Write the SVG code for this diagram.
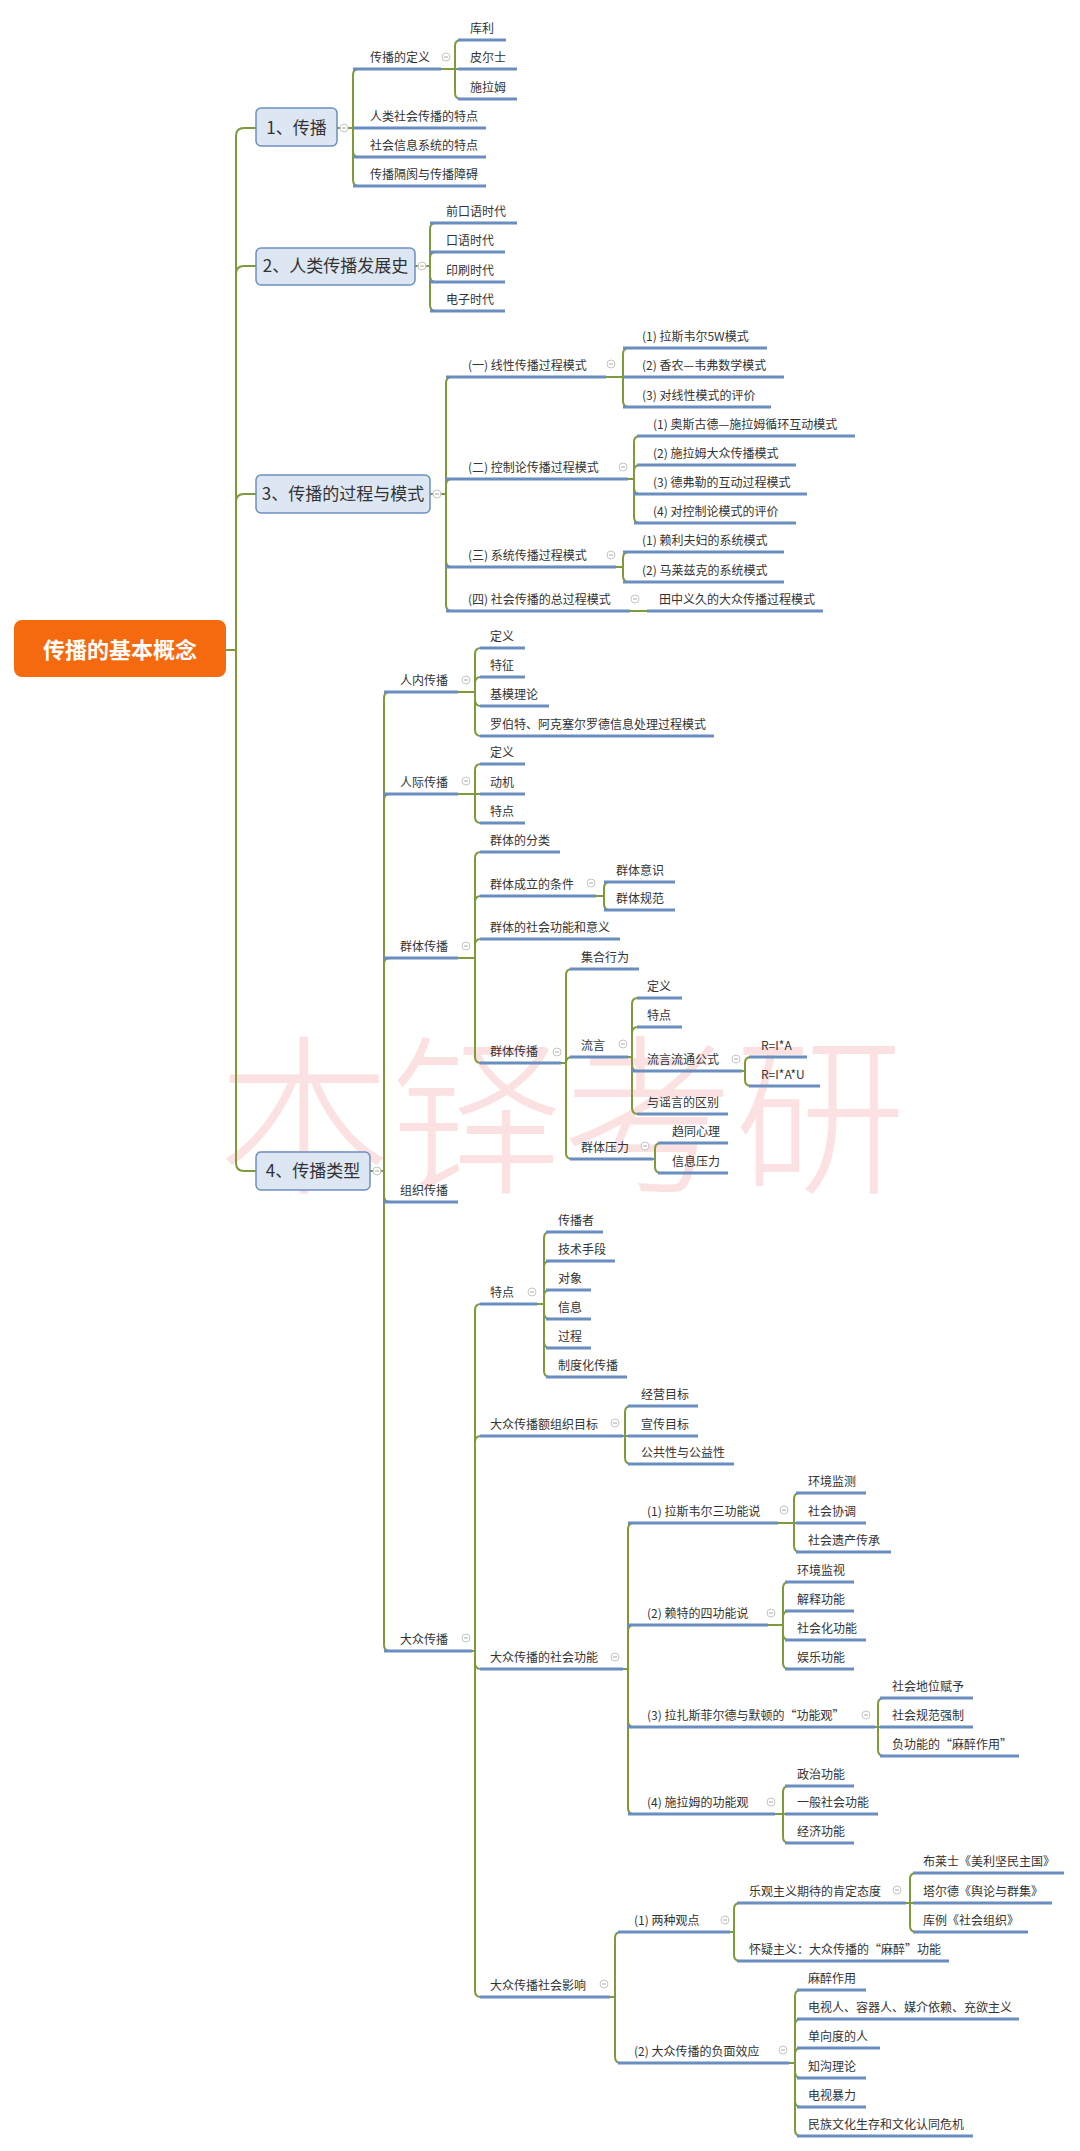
<svg xmlns="http://www.w3.org/2000/svg" xmlns:xlink="http://www.w3.org/1999/xlink" width="1080" height="2151" viewBox="0 0 1080 2151">
<style>
.t{font-family:"Noto Sans CJK SC","Noto Sans",sans-serif;font-size:12px;fill:#333}
.l1{font-size:17px;fill:#333;text-anchor:middle}
.root{font-size:22px;font-weight:bold;fill:#fff;text-anchor:middle}
.wm{font-family:"Noto Sans CJK SC","Noto Sans",sans-serif;font-size:172px;font-weight:300;fill:#fbe1e1}
.ul{stroke:#6a8ebf;stroke-width:3;fill:none}
.cn path{fill:none;stroke:#7f9a3c;stroke-width:2}
.box{fill:#dde7f3;stroke:#6d8fc0;stroke-width:1.5}
.cc{fill:#fff;stroke:#c4c4c4;stroke-width:1}
</style>
<defs>
<g id="col"><circle class="cc" cx="0" cy="0" r="4"/><line x1="-2" y1="0" x2="2" y2="0" stroke="#aaa" stroke-width="1"/></g>
</defs>
<rect width="1080" height="2151" fill="#ffffff"/>
<text class="wm" x="218" y="1180">本铎考研</text>

<g id="connectors" class="cn">
<path d="M226 650 H236 V136 Q236 128 244 128 H256"/>
<path d="M236 650 V274 Q236 266 244 266 H256"/>
<path d="M236 650 V502 Q236 494 244 494 H256"/>
<path d="M236 650 V1163 Q236 1171 244 1171 H256"/>
<path d="M337 128 H353 V75 Q353 69 359 69"/>
<path d="M337 128 H359"/>
<path d="M353 128 V151 Q353 157 359 157"/>
<path d="M353 128 V180 Q353 186 359 186"/>
<path d="M441 69 H455 V46 Q455 40 461 40"/>
<path d="M441 69 H458"/>
<path d="M455 69 V93 Q455 99 461 99"/>
<path d="M415 266 H430 V229 Q430 223 436 223"/>
<path d="M430 266 V258 Q430 252 436 252"/>
<path d="M430 266 V276 Q430 282 436 282"/>
<path d="M430 266 V305 Q430 311 436 311"/>
<path d="M430 494 H446 V383 Q446 377 452 377"/>
<path d="M446 494 V485 Q446 479 452 479"/>
<path d="M446 494 V561 Q446 567 452 567"/>
<path d="M446 494 V605 Q446 611 452 611"/>
<path d="M606 377 H623 V354 Q623 348 629 348"/>
<path d="M606 377 H629"/>
<path d="M623 377 V401 Q623 407 629 407"/>
<path d="M628 479 H634 V442 Q634 436 640 436"/>
<path d="M634 479 V471 Q634 465 640 465"/>
<path d="M634 479 V488 Q634 494 640 494"/>
<path d="M634 479 V517 Q634 523 640 523"/>
<path d="M616 567 H623 V558 Q623 552 629 552"/>
<path d="M623 567 V576 Q623 582 629 582"/>
<path d="M630 611 H647"/>
<path d="M370 1171 H384 V698 Q384 692 390 692"/>
<path d="M384 1171 V800 Q384 794 390 794"/>
<path d="M384 1171 V964 Q384 958 390 958"/>
<path d="M384 1171 V1196 Q384 1202 390 1202"/>
<path d="M384 1171 V1645 Q384 1651 390 1651"/>
<path d="M458 692 H475 V654 Q475 648 481 648"/>
<path d="M475 692 V683 Q475 677 481 677"/>
<path d="M475 692 V700 Q475 706 481 706"/>
<path d="M475 692 V730 Q475 736 481 736"/>
<path d="M458 794 H475 V770 Q475 764 481 764"/>
<path d="M458 794 H481"/>
<path d="M475 794 V817 Q475 823 481 823"/>
<path d="M458 958 H475 V858 Q475 852 481 852"/>
<path d="M475 958 V902 Q475 896 481 896"/>
<path d="M475 958 V945 Q475 939 481 939"/>
<path d="M475 958 V1057 Q475 1063 481 1063"/>
<path d="M596 896 H604 V888 Q604 882 610 882"/>
<path d="M604 896 V904 Q604 910 610 910"/>
<path d="M561 1063 H566 V975 Q566 969 572 969"/>
<path d="M566 1063 Q566 1057 572 1057"/>
<path d="M566 1063 V1153 Q566 1159 572 1159"/>
<path d="M628 1057 H632 V1004 Q632 998 638 998"/>
<path d="M632 1057 V1033 Q632 1027 638 1027"/>
<path d="M632 1057 V1065 Q632 1071 638 1071"/>
<path d="M632 1057 V1108 Q632 1114 638 1114"/>
<path d="M742 1071 H745 V1063 Q745 1057 751 1057"/>
<path d="M745 1071 V1080 Q745 1086 751 1086"/>
<path d="M653 1159 H655 V1149 Q655 1143 661 1143"/>
<path d="M655 1159 V1167 Q655 1173 661 1173"/>
<path d="M472 1651 H475 V1310 Q475 1304 481 1304"/>
<path d="M475 1651 V1442 Q475 1436 481 1436"/>
<path d="M475 1651 V1663 Q475 1669 481 1669"/>
<path d="M475 1651 V1991 Q475 1997 481 1997"/>
<path d="M537 1304 H544 V1238 Q544 1232 550 1232"/>
<path d="M544 1304 V1267 Q544 1261 550 1261"/>
<path d="M544 1304 V1296 Q544 1290 550 1290"/>
<path d="M544 1304 V1313 Q544 1319 550 1319"/>
<path d="M544 1304 V1342 Q544 1348 550 1348"/>
<path d="M544 1304 V1371 Q544 1377 550 1377"/>
<path d="M623 1436 H625 V1412 Q625 1406 631 1406"/>
<path d="M623 1436 H631"/>
<path d="M625 1436 V1458 Q625 1464 631 1464"/>
<path d="M623 1669 H628 V1529 Q628 1523 634 1523"/>
<path d="M628 1669 V1631 Q628 1625 634 1625"/>
<path d="M628 1669 V1721 Q628 1727 634 1727"/>
<path d="M628 1669 V1808 Q628 1814 634 1814"/>
<path d="M778 1523 H794 V1499 Q794 1493 800 1493"/>
<path d="M778 1523 H800"/>
<path d="M794 1523 V1546 Q794 1552 800 1552"/>
<path d="M768 1625 H783 V1588 Q783 1582 789 1582"/>
<path d="M783 1625 V1617 Q783 1611 789 1611"/>
<path d="M783 1625 V1634 Q783 1640 789 1640"/>
<path d="M783 1625 V1663 Q783 1669 789 1669"/>
<path d="M875 1727 H878 V1704 Q878 1698 884 1698"/>
<path d="M875 1727 H884"/>
<path d="M878 1727 V1750 Q878 1756 884 1756"/>
<path d="M775 1814 H783 V1792 Q783 1786 789 1786"/>
<path d="M775 1814 H789"/>
<path d="M783 1814 V1837 Q783 1843 789 1843"/>
<path d="M610 1997 H615 V1938 Q615 1932 621 1932"/>
<path d="M615 1997 V2057 Q615 2063 621 2063"/>
<path d="M730 1932 H734 V1909 Q734 1903 740 1903"/>
<path d="M734 1932 V1955 Q734 1961 740 1961"/>
<path d="M906 1903 H910 V1879 Q910 1873 916 1873"/>
<path d="M906 1903 H916"/>
<path d="M910 1903 V1926 Q910 1932 916 1932"/>
<path d="M789 2063 H795 V1996 Q795 1990 801 1990"/>
<path d="M795 2063 V2025 Q795 2019 801 2019"/>
<path d="M795 2063 V2054 Q795 2048 801 2048"/>
<path d="M795 2063 V2072 Q795 2078 801 2078"/>
<path d="M795 2063 V2101 Q795 2107 801 2107"/>
<path d="M795 2063 V2130 Q795 2136 801 2136"/>
</g>

<g id="root"><rect x="14" y="620" width="212" height="57" rx="8" fill="#f5690f"/><text class="t root" x="120" y="658">传播的基本概念</text></g>

<g id="n1"><rect class="box" x="256" y="108" width="81" height="38" rx="5"/><text class="t l1" x="296.5" y="134">1、传播</text><use href="#col" x="344" y="128"/></g>
<g id="n2"><rect class="box" x="256" y="248" width="159" height="37" rx="5"/><text class="t l1" x="335.5" y="272">2、人类传播发展史</text><use href="#col" x="422" y="266"/></g>
<g id="n3"><rect class="box" x="256" y="475" width="174" height="38" rx="5"/><text class="t l1" x="343" y="500">3、传播的过程与模式</text><use href="#col" x="437" y="494"/></g>
<g id="n4"><rect class="box" x="256" y="1152" width="114" height="38" rx="5"/><text class="t l1" x="313" y="1177">4、传播类型</text><use href="#col" x="377" y="1171"/></g>

<g id="n1-1"><text class="t" x="370" y="62">传播的定义</text><line class="ul" x1="353" y1="69" x2="441" y2="69"/><use href="#col" x="446" y="57"/></g>
<g id="n1-1-1"><text class="t" x="470" y="33">库利</text><line class="ul" x1="458" y1="40" x2="506" y2="40"/></g>
<g id="n1-1-2"><text class="t" x="470" y="62">皮尔士</text><line class="ul" x1="458" y1="69" x2="517" y2="69"/></g>
<g id="n1-1-3"><text class="t" x="470" y="92">施拉姆</text><line class="ul" x1="458" y1="99" x2="517" y2="99"/></g>
<g id="n1-2"><text class="t" x="370" y="121">人类社会传播的特点</text><line class="ul" x1="353" y1="128" x2="486" y2="128"/></g>
<g id="n1-3"><text class="t" x="370" y="150">社会信息系统的特点</text><line class="ul" x1="353" y1="157" x2="486" y2="157"/></g>
<g id="n1-4"><text class="t" x="370" y="179">传播隔阂与传播障碍</text><line class="ul" x1="353" y1="186" x2="486" y2="186"/></g>

<g id="n2-1"><text class="t" x="446" y="216">前口语时代</text><line class="ul" x1="430" y1="223" x2="517" y2="223"/></g>
<g id="n2-2"><text class="t" x="446" y="245">口语时代</text><line class="ul" x1="430" y1="252" x2="505" y2="252"/></g>
<g id="n2-3"><text class="t" x="446" y="275">印刷时代</text><line class="ul" x1="430" y1="282" x2="505" y2="282"/></g>
<g id="n2-4"><text class="t" x="446" y="304">电子时代</text><line class="ul" x1="430" y1="311" x2="505" y2="311"/></g>

<g id="n3-1"><text class="t" x="468" y="370">(一) 线性传播过程模式</text><line class="ul" x1="446" y1="377" x2="606" y2="377"/><use href="#col" x="611" y="364"/></g>
<g id="n3-1-1"><text class="t" x="642" y="341">(1) 拉斯韦尔5W模式</text><line class="ul" x1="623" y1="348" x2="767" y2="348"/></g>
<g id="n3-1-2"><text class="t" x="642" y="370">(2) 香农—韦弗数学模式</text><line class="ul" x1="623" y1="377" x2="784" y2="377"/></g>
<g id="n3-1-3"><text class="t" x="642" y="400">(3) 对线性模式的评价</text><line class="ul" x1="623" y1="407" x2="771" y2="407"/></g>
<g id="n3-2"><text class="t" x="468" y="472">(二) 控制论传播过程模式</text><line class="ul" x1="446" y1="479" x2="628" y2="479"/><use href="#col" x="623" y="467"/></g>
<g id="n3-2-1"><text class="t" x="653" y="429">(1) 奥斯古德—施拉姆循环互动模式</text><line class="ul" x1="637" y1="436" x2="855" y2="436"/></g>
<g id="n3-2-2"><text class="t" x="653" y="458">(2) 施拉姆大众传播模式</text><line class="ul" x1="637" y1="465" x2="796" y2="465"/></g>
<g id="n3-2-3"><text class="t" x="653" y="487">(3) 德弗勒的互动过程模式</text><line class="ul" x1="634" y1="494" x2="807" y2="494"/></g>
<g id="n3-2-4"><text class="t" x="653" y="516">(4) 对控制论模式的评价</text><line class="ul" x1="634" y1="523" x2="796" y2="523"/></g>
<g id="n3-3"><text class="t" x="468" y="560">(三) 系统传播过程模式</text><line class="ul" x1="446" y1="567" x2="616" y2="567"/><use href="#col" x="611" y="555"/></g>
<g id="n3-3-1"><text class="t" x="642" y="545">(1) 赖利夫妇的系统模式</text><line class="ul" x1="623" y1="552" x2="784" y2="552"/></g>
<g id="n3-3-2"><text class="t" x="642" y="575">(2) 马莱兹克的系统模式</text><line class="ul" x1="623" y1="582" x2="784" y2="582"/></g>
<g id="n3-4"><text class="t" x="468" y="604">(四) 社会传播的总过程模式</text><line class="ul" x1="446" y1="611" x2="630" y2="611"/><use href="#col" x="635" y="599"/></g>
<g id="n3-4-1"><text class="t" x="659" y="604">田中义久的大众传播过程模式</text><line class="ul" x1="647" y1="611" x2="823" y2="611"/></g>

<g id="n4-1"><text class="t" x="400" y="685">人内传播</text><line class="ul" x1="384" y1="692" x2="458" y2="692"/><use href="#col" x="466" y="680"/></g>
<g id="n4-1-1"><text class="t" x="490" y="641">定义</text><line class="ul" x1="480" y1="648" x2="525" y2="648"/></g>
<g id="n4-1-2"><text class="t" x="490" y="670">特征</text><line class="ul" x1="480" y1="677" x2="525" y2="677"/></g>
<g id="n4-1-3"><text class="t" x="490" y="699">基模理论</text><line class="ul" x1="480" y1="706" x2="549" y2="706"/></g>
<g id="n4-1-4"><text class="t" x="490" y="729">罗伯特、阿克塞尔罗德信息处理过程模式</text><line class="ul" x1="480" y1="736" x2="714" y2="736"/></g>
<g id="n4-2"><text class="t" x="400" y="787">人际传播</text><line class="ul" x1="384" y1="794" x2="458" y2="794"/><use href="#col" x="466" y="781"/></g>
<g id="n4-2-1"><text class="t" x="490" y="757">定义</text><line class="ul" x1="480" y1="764" x2="525" y2="764"/></g>
<g id="n4-2-2"><text class="t" x="490" y="787">动机</text><line class="ul" x1="480" y1="794" x2="525" y2="794"/></g>
<g id="n4-2-3"><text class="t" x="490" y="816">特点</text><line class="ul" x1="480" y1="823" x2="525" y2="823"/></g>
<g id="n4-3"><text class="t" x="400" y="951">群体传播</text><line class="ul" x1="384" y1="958" x2="458" y2="958"/><use href="#col" x="466" y="946"/></g>
<g id="n4-3-1"><text class="t" x="490" y="845">群体的分类</text><line class="ul" x1="480" y1="852" x2="560" y2="852"/></g>
<g id="n4-3-2"><text class="t" x="490" y="889">群体成立的条件</text><line class="ul" x1="480" y1="896" x2="596" y2="896"/><use href="#col" x="591" y="883"/></g>
<g id="n4-3-2-1"><text class="t" x="616" y="875">群体意识</text><line class="ul" x1="604" y1="882" x2="675" y2="882"/></g>
<g id="n4-3-2-2"><text class="t" x="616" y="903">群体规范</text><line class="ul" x1="604" y1="910" x2="675" y2="910"/></g>
<g id="n4-3-3"><text class="t" x="490" y="932">群体的社会功能和意义</text><line class="ul" x1="480" y1="939" x2="620" y2="939"/></g>
<g id="n4-3-4"><text class="t" x="490" y="1056">群体传播</text><line class="ul" x1="480" y1="1063" x2="561" y2="1063"/><use href="#col" x="557" y="1052"/></g>
<g id="n4-3-4-1"><text class="t" x="581" y="962">集合行为</text><line class="ul" x1="570" y1="969" x2="639" y2="969"/></g>
<g id="n4-3-4-2"><text class="t" x="581" y="1050">流言</text><line class="ul" x1="570" y1="1057" x2="628" y2="1057"/><use href="#col" x="623" y="1044"/></g>
<g id="n4-3-4-2-1"><text class="t" x="647" y="991">定义</text><line class="ul" x1="637" y1="998" x2="682" y2="998"/></g>
<g id="n4-3-4-2-2"><text class="t" x="647" y="1020">特点</text><line class="ul" x1="637" y1="1027" x2="682" y2="1027"/></g>
<g id="n4-3-4-2-3"><text class="t" x="647" y="1064">流言流通公式</text><line class="ul" x1="632" y1="1071" x2="742" y2="1071"/><use href="#col" x="736" y="1059"/></g>
<g id="n4-3-4-2-3-1"><text class="t" x="761" y="1050">R=I*A</text><line class="ul" x1="749" y1="1057" x2="807" y2="1057"/></g>
<g id="n4-3-4-2-3-2"><text class="t" x="761" y="1079">R=I*A*U</text><line class="ul" x1="749" y1="1086" x2="820" y2="1086"/></g>
<g id="n4-3-4-2-4"><text class="t" x="647" y="1107">与谣言的区别</text><line class="ul" x1="637" y1="1114" x2="728" y2="1114"/></g>
<g id="n4-3-4-3"><text class="t" x="581" y="1152">群体压力</text><line class="ul" x1="570" y1="1159" x2="653" y2="1159"/><use href="#col" x="645" y="1146"/></g>
<g id="n4-3-4-3-1"><text class="t" x="672" y="1136">趋同心理</text><line class="ul" x1="658" y1="1143" x2="728" y2="1143"/></g>
<g id="n4-3-4-3-2"><text class="t" x="672" y="1166">信息压力</text><line class="ul" x1="658" y1="1173" x2="728" y2="1173"/></g>
<g id="n4-4"><text class="t" x="400" y="1195">组织传播</text><line class="ul" x1="384" y1="1202" x2="458" y2="1202"/></g>
<g id="n4-5"><text class="t" x="400" y="1644">大众传播</text><line class="ul" x1="384" y1="1651" x2="472" y2="1651"/><use href="#col" x="466" y="1638"/></g>
<g id="n4-5-1"><text class="t" x="490" y="1297">特点</text><line class="ul" x1="480" y1="1304" x2="537" y2="1304"/><use href="#col" x="532" y="1292"/></g>
<g id="n4-5-1-1"><text class="t" x="558" y="1225">传播者</text><line class="ul" x1="546" y1="1232" x2="603" y2="1232"/></g>
<g id="n4-5-1-2"><text class="t" x="558" y="1254">技术手段</text><line class="ul" x1="546" y1="1261" x2="615" y2="1261"/></g>
<g id="n4-5-1-3"><text class="t" x="558" y="1283">对象</text><line class="ul" x1="546" y1="1290" x2="591" y2="1290"/></g>
<g id="n4-5-1-4"><text class="t" x="558" y="1312">信息</text><line class="ul" x1="546" y1="1319" x2="591" y2="1319"/></g>
<g id="n4-5-1-5"><text class="t" x="558" y="1341">过程</text><line class="ul" x1="546" y1="1348" x2="591" y2="1348"/></g>
<g id="n4-5-1-6"><text class="t" x="558" y="1370">制度化传播</text><line class="ul" x1="546" y1="1377" x2="627" y2="1377"/></g>
<g id="n4-5-2"><text class="t" x="490" y="1429">大众传播额组织目标</text><line class="ul" x1="480" y1="1436" x2="623" y2="1436"/><use href="#col" x="615" y="1423"/></g>
<g id="n4-5-2-1"><text class="t" x="641" y="1399">经营目标</text><line class="ul" x1="628" y1="1406" x2="698" y2="1406"/></g>
<g id="n4-5-2-2"><text class="t" x="641" y="1429">宣传目标</text><line class="ul" x1="628" y1="1436" x2="698" y2="1436"/></g>
<g id="n4-5-2-3"><text class="t" x="641" y="1457">公共性与公益性</text><line class="ul" x1="628" y1="1464" x2="734" y2="1464"/></g>
<g id="n4-5-3"><text class="t" x="490" y="1662">大众传播的社会功能</text><line class="ul" x1="480" y1="1669" x2="623" y2="1669"/><use href="#col" x="615" y="1657"/></g>
<g id="n4-5-3-1"><text class="t" x="647" y="1516">(1) 拉斯韦尔三功能说</text><line class="ul" x1="628" y1="1523" x2="778" y2="1523"/><use href="#col" x="784" y="1510"/></g>
<g id="n4-5-3-1-1"><text class="t" x="808" y="1486">环境监测</text><line class="ul" x1="796" y1="1493" x2="866" y2="1493"/></g>
<g id="n4-5-3-1-2"><text class="t" x="808" y="1516">社会协调</text><line class="ul" x1="796" y1="1523" x2="866" y2="1523"/></g>
<g id="n4-5-3-1-3"><text class="t" x="808" y="1545">社会遗产传承</text><line class="ul" x1="796" y1="1552" x2="891" y2="1552"/></g>
<g id="n4-5-3-2"><text class="t" x="647" y="1618">(2) 赖特的四功能说</text><line class="ul" x1="628" y1="1625" x2="768" y2="1625"/><use href="#col" x="771" y="1613"/></g>
<g id="n4-5-3-2-1"><text class="t" x="797" y="1575">环境监视</text><line class="ul" x1="785" y1="1582" x2="854" y2="1582"/></g>
<g id="n4-5-3-2-2"><text class="t" x="797" y="1604">解释功能</text><line class="ul" x1="785" y1="1611" x2="854" y2="1611"/></g>
<g id="n4-5-3-2-3"><text class="t" x="797" y="1633">社会化功能</text><line class="ul" x1="785" y1="1640" x2="866" y2="1640"/></g>
<g id="n4-5-3-2-4"><text class="t" x="797" y="1662">娱乐功能</text><line class="ul" x1="785" y1="1669" x2="854" y2="1669"/></g>
<g id="n4-5-3-3"><text class="t" x="647" y="1720">(3) 拉扎斯菲尔德与默顿的“功能观”</text><line class="ul" x1="628" y1="1727" x2="875" y2="1727"/><use href="#col" x="866" y="1715"/></g>
<g id="n4-5-3-3-1"><text class="t" x="892" y="1691">社会地位赋予</text><line class="ul" x1="880" y1="1698" x2="973" y2="1698"/></g>
<g id="n4-5-3-3-2"><text class="t" x="892" y="1720">社会规范强制</text><line class="ul" x1="880" y1="1727" x2="973" y2="1727"/></g>
<g id="n4-5-3-3-3"><text class="t" x="892" y="1749">负功能的“麻醉作用”</text><line class="ul" x1="880" y1="1756" x2="1019" y2="1756"/></g>
<g id="n4-5-3-4"><text class="t" x="647" y="1807">(4) 施拉姆的功能观</text><line class="ul" x1="628" y1="1814" x2="775" y2="1814"/><use href="#col" x="771" y="1802"/></g>
<g id="n4-5-3-4-1"><text class="t" x="797" y="1779">政治功能</text><line class="ul" x1="785" y1="1786" x2="854" y2="1786"/></g>
<g id="n4-5-3-4-2"><text class="t" x="797" y="1807">一般社会功能</text><line class="ul" x1="785" y1="1814" x2="878" y2="1814"/></g>
<g id="n4-5-3-4-3"><text class="t" x="797" y="1836">经济功能</text><line class="ul" x1="785" y1="1843" x2="854" y2="1843"/></g>
<g id="n4-5-4"><text class="t" x="490" y="1990">大众传播社会影响</text><line class="ul" x1="480" y1="1997" x2="610" y2="1997"/><use href="#col" x="604" y="1984"/></g>
<g id="n4-5-4-1"><text class="t" x="634" y="1925">(1) 两种观点</text><line class="ul" x1="618" y1="1932" x2="730" y2="1932"/><use href="#col" x="725" y="1920"/></g>
<g id="n4-5-4-1-1"><text class="t" x="749" y="1896">乐观主义期待的肯定态度</text><line class="ul" x1="737" y1="1903" x2="906" y2="1903"/><use href="#col" x="897" y="1890"/></g>
<g id="n4-5-4-1-1-1"><text class="t" x="923" y="1866">布莱士《美利坚民主国》</text><line class="ul" x1="913" y1="1873" x2="1064" y2="1873"/></g>
<g id="n4-5-4-1-1-2"><text class="t" x="923" y="1896">塔尔德《舆论与群集》</text><line class="ul" x1="913" y1="1903" x2="1052" y2="1903"/></g>
<g id="n4-5-4-1-1-3"><text class="t" x="923" y="1925">库例《社会组织》</text><line class="ul" x1="913" y1="1932" x2="1028" y2="1932"/></g>
<g id="n4-5-4-1-2"><text class="t" x="749" y="1954">怀疑主义：大众传播的“麻醉”功能</text><line class="ul" x1="737" y1="1961" x2="949" y2="1961"/></g>
<g id="n4-5-4-2"><text class="t" x="634" y="2056">(2) 大众传播的负面效应</text><line class="ul" x1="618" y1="2063" x2="789" y2="2063"/><use href="#col" x="783" y="2050"/></g>
<g id="n4-5-4-2-1"><text class="t" x="808" y="1983">麻醉作用</text><line class="ul" x1="797" y1="1990" x2="866" y2="1990"/></g>
<g id="n4-5-4-2-2"><text class="t" x="808" y="2012">电视人、容器人、媒介依赖、充欲主义</text><line class="ul" x1="797" y1="2019" x2="1019" y2="2019"/></g>
<g id="n4-5-4-2-3"><text class="t" x="808" y="2041">单向度的人</text><line class="ul" x1="797" y1="2048" x2="880" y2="2048"/></g>
<g id="n4-5-4-2-4"><text class="t" x="808" y="2071">知沟理论</text><line class="ul" x1="797" y1="2078" x2="866" y2="2078"/></g>
<g id="n4-5-4-2-5"><text class="t" x="808" y="2100">电视暴力</text><line class="ul" x1="797" y1="2107" x2="866" y2="2107"/></g>
<g id="n4-5-4-2-6"><text class="t" x="808" y="2129">民族文化生存和文化认同危机</text><line class="ul" x1="797" y1="2136" x2="973" y2="2136"/></g>
</svg>
